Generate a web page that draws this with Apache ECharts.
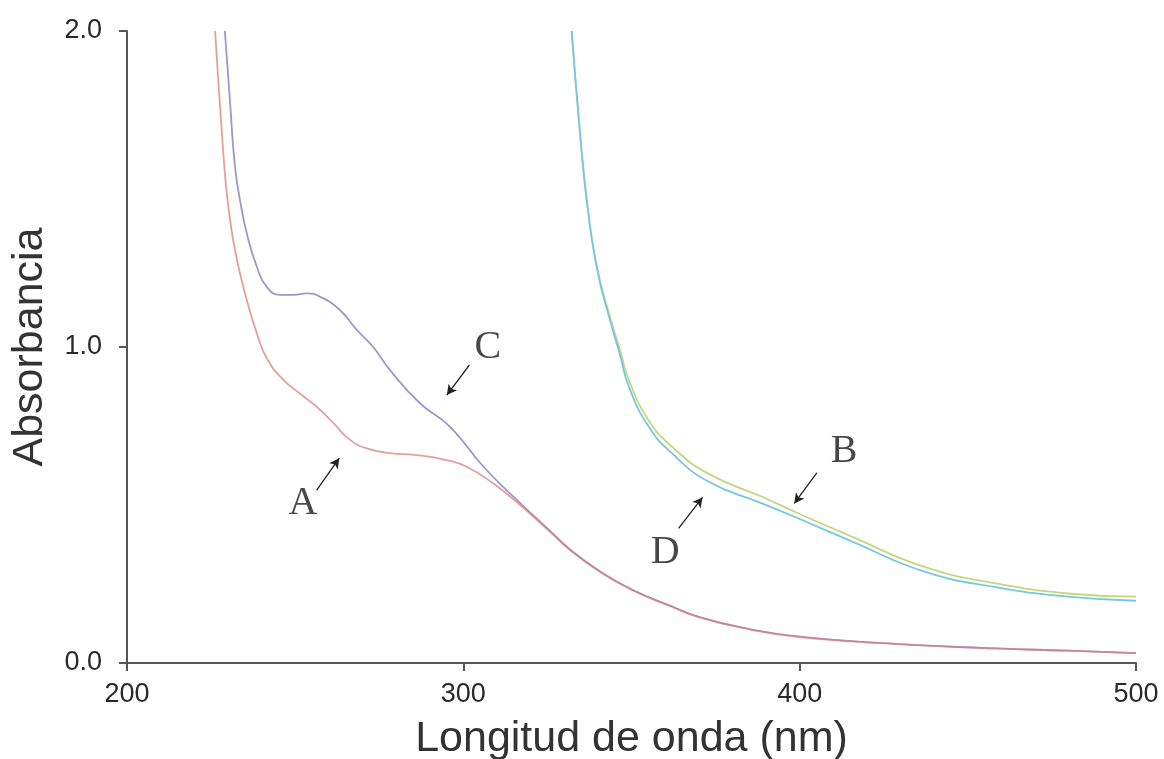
<!DOCTYPE html>
<html>
<head>
<meta charset="utf-8">
<script src="https://cdn.jsdelivr.net/npm/echarts@6/dist/echarts.min.js"></script>
<style>
html,body{margin:0;padding:0;background:#fff;}
#chart{width:1164px;height:759px;}
</style>
</head>
<body>
<div id="chart"></div>
<script>
// ---- data ----
const xTicks = [200, 300, 400, 500];
const yTicks = [0, 1, 2];

// Curve A (red)
const lambdaA = [226.2, 228.6, 229.9, 232.1, 235.6, 238.6, 241.5, 246.5, 251.4, 256.4, 261.4, 266.3, 271.3, 278.2, 286.1, 295.0, 301.0, 308.9, 316.9, 325.8, 332.0, 340.6, 350.0, 362.0, 370.0, 383.4, 399.4, 426.2, 458.3, 479.7, 500.0];
const absA    = [2.0,   1.62,  1.465, 1.307, 1.149, 1.043, 0.965, 0.896, 0.853, 0.811, 0.759, 0.706, 0.679, 0.664, 0.658, 0.642, 0.621, 0.568, 0.500, 0.415, 0.355, 0.289, 0.232, 0.178, 0.145, 0.110, 0.083, 0.062, 0.046, 0.039, 0.031];

// Curve C (purple)
const lambdaC = [229.1, 230.6, 232.1, 233.6, 235.6, 238.6, 241.5, 245.5, 249.5, 253.4, 257.4, 263.3, 268.3, 273.2, 278.2, 287.1, 296.0, 306.0, 315.9, 325.8, 332.0, 340.6, 350.0, 362.0, 370.0, 383.4, 399.4, 426.2, 458.3, 479.7, 500.0];
const absC    = [2.0,   1.78,  1.571, 1.465, 1.36,  1.254, 1.191, 1.165, 1.165, 1.17,  1.159, 1.117, 1.054, 1.00,  0.927, 0.822, 0.748, 0.621, 0.516, 0.418, 0.357, 0.290, 0.233, 0.179, 0.146, 0.111, 0.084, 0.062, 0.046, 0.039, 0.031];

// Curve B (yellow-green)
const lambdaB = [332.2, 334.7, 336.7, 339.7, 343.6, 346.6, 349.2, 355.0, 362.0, 372.7, 388.8, 399.5, 415.5, 436.9, 458.3, 479.7, 500.0];
const absB    = [2.0,   1.676, 1.465, 1.254, 1.096, 0.99,  0.896, 0.77,  0.685, 0.60,  0.526, 0.474, 0.40,  0.305, 0.252, 0.22,  0.21];

// Curve D (cyan)
const lambdaD = [332.2, 334.7, 336.7, 339.7, 343.6, 346.6, 349.2, 355.0, 362.0, 372.7, 388.8, 399.5, 415.5, 436.9, 458.3, 479.7, 500.0];
const absD    = [2.0,   1.676, 1.465, 1.25,  1.085, 0.975, 0.875, 0.75,  0.664, 0.575, 0.505, 0.458, 0.385, 0.29,  0.24,  0.21,  0.197];

// Annotation letters (data coordinates) and arrows (start -> tip)
const noteText   = ['A', 'B', 'C', 'D'];
const noteX      = [252.3, 413.2, 307.3, 360.0];
const noteY      = [0.506, 0.668, 1.0,   0.351];
const arrowFromX = [256.4, 405.1, 301.8, 364.0];
const arrowFromY = [0.547, 0.602, 0.943, 0.426];
const arrowToX   = [263.1, 398.4, 295.1, 371.1];
const arrowToY   = [0.648, 0.505, 0.848, 0.524];

// ---- chart ----
const zip = (xs, ys) => xs.map((x, i) => [x, ys[i]]);

function curve(name, xs, ys, color, opacity) {
  return {
    name: name, type: 'line', data: zip(xs, ys),
    showSymbol: false, smooth: 0.5,
    lineStyle: { color: color, width: 1.8, opacity: opacity }, itemStyle: { color: color },
    silent: true, animation: false
  };
}

const chart = echarts.init(document.getElementById('chart'));
const axisCol = '#555';
const sans = 'Liberation Sans, Arial, sans-serif';
chart.setOption({
  backgroundColor: '#fff',
  animation: false,
  grid: { left: 127, right: 28, top: 31, bottom: 96, containLabel: false, outerBoundsMode: 'none' },
  xAxis: {
    type: 'value', min: 200, max: 500, interval: 100,
    name: 'Longitud de onda (nm)', nameLocation: 'middle', nameGap: 55,
    nameTextStyle: { fontFamily: sans, fontSize: 43, color: '#333' },
    axisLine: { show: true, onZero: false, lineStyle: { color: axisCol, width: 2 } },
    axisTick: { show: true, length: 8, lineStyle: { color: axisCol, width: 2 } },
    axisLabel: { margin: 18, fontFamily: sans, fontSize: 27, color: '#2a2a2a',
      customValues: xTicks, formatter: v => String(v) },
    splitLine: { show: false }
  },
  yAxis: {
    type: 'value', min: 0, max: 2, interval: 1,
    name: 'Absorbancia', nameLocation: 'middle', nameGap: 75,
    nameTextStyle: { fontFamily: sans, fontSize: 43, color: '#333' },
    axisLine: { show: true, lineStyle: { color: axisCol, width: 2 } },
    axisTick: { show: true, length: 8, lineStyle: { color: axisCol, width: 2 } },
    axisLabel: { margin: 25, fontFamily: sans, fontSize: 27, color: '#2a2a2a',
      formatter: v => v.toFixed(1) },
    splitLine: { show: false }
  },
  series: [
    curve('C', lambdaC, absC, '#9d97cc', 1),
    curve('A', lambdaA, absA, '#dc7f7a', 0.75),
    curve('B', lambdaB, absB, '#c5d67f', 1),
    curve('D', lambdaD, absD, '#74c9de', 1),
    {
      name: 'notes', type: 'scatter', silent: true, animation: false,
      symbolSize: 0,
      data: noteText.map((t, i) => [noteX[i], noteY[i], t]),
      label: { show: true, position: 'inside', formatter: p => p.data[2],
        fontFamily: 'Liberation Serif, Times New Roman, serif', fontSize: 40, color: '#1a1a1a' },
      markLine: {
        silent: true, animation: false,
        symbol: ['none', 'arrow'], symbolSize: [8, 10],
        label: { show: false },
        lineStyle: { color: '#222', width: 1.3, type: 'solid' },
        data: noteText.map((t, i) => [
          { coord: [arrowFromX[i], arrowFromY[i]] },
          { coord: [arrowToX[i], arrowToY[i]] }
        ])
      }
    }
  ]
});
</script>
</body>
</html>
